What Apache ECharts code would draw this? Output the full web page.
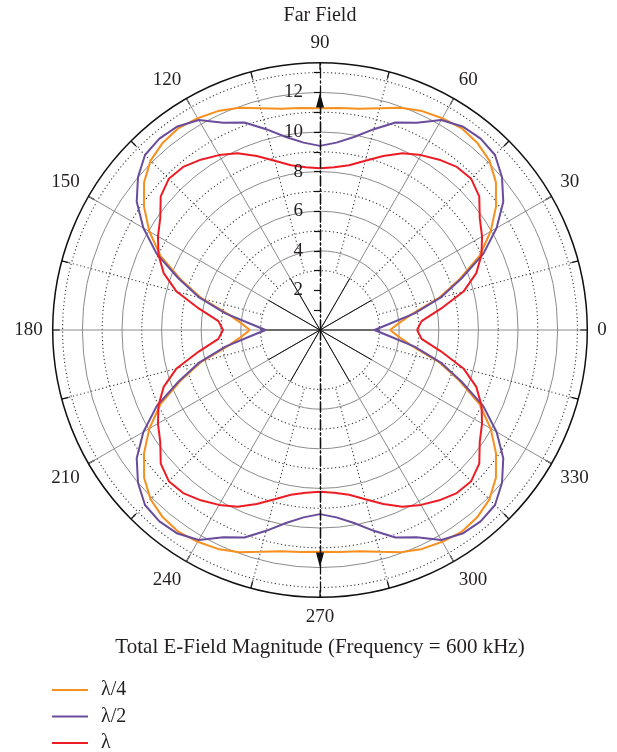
<!DOCTYPE html>
<html>
<head>
<meta charset="utf-8">
<script src="https://cdn.jsdelivr.net/npm/echarts@6/dist/echarts.min.js"></script>
<style>
  html, body { margin: 0; padding: 0; background: #fff; }
  #chart { width: 617px; height: 752px; }
</style>
</head>
<body>
<div id="chart"></div>
<script>
// Far-field pattern: total E-field magnitude versus angle (degrees), 5-degree steps.
const angles = [
  0, 5, 10, 15, 20, 25, 30, 35, 40, 45, 50, 55, 60, 65, 70, 75, 80, 85, 90,
  95, 100, 105, 110, 115, 120, 125, 130, 135, 140, 145, 150, 155, 160, 165, 170, 175, 180,
  185, 190, 195, 200, 205, 210, 215, 220, 225, 230, 235, 240, 245, 250, 255, 260, 265, 270,
  275, 280, 285, 290, 295, 300, 305, 310, 315, 320, 325, 330, 335, 340, 345, 350, 355, 360
];

const quarterWave = [
  3.54, 4.0, 4.75, 6.2, 7.5, 8.9, 9.95, 10.85, 11.6, 12.1, 12.35, 12.45, 12.35, 12.2, 11.95, 11.6, 11.35, 11.25, 11.2,
  11.25, 11.35, 11.6, 11.95, 12.2, 12.35, 12.45, 12.35, 12.1, 11.6, 10.85, 9.95, 8.9, 7.5, 6.2, 4.75, 4.0, 3.54,
  4.0, 4.75, 6.2, 7.5, 8.9, 9.95, 10.85, 11.6, 12.1, 12.35, 12.45, 12.35, 12.2, 11.95, 11.6, 11.35, 11.25, 11.2,
  11.25, 11.35, 11.6, 11.95, 12.2, 12.35, 12.45, 12.35, 12.1, 11.6, 10.85, 9.95, 8.9, 7.5, 6.2, 4.75, 4.0, 3.54
];

const halfWave = [
  2.75, 3.5, 4.85, 6.3, 7.6, 9.1, 10.3, 11.3, 12.0, 12.5, 12.62, 12.55, 12.25, 11.55, 11.15, 10.5, 9.9, 9.5, 9.3,
  9.5, 9.9, 10.5, 11.15, 11.55, 12.25, 12.55, 12.62, 12.5, 12.0, 11.3, 10.3, 9.1, 7.6, 6.3, 4.85, 3.5, 2.75,
  3.5, 4.85, 6.3, 7.6, 9.1, 10.3, 11.3, 12.0, 12.5, 12.62, 12.55, 12.25, 11.55, 11.15, 10.5, 9.9, 9.5, 9.3,
  9.5, 9.9, 10.5, 11.15, 11.55, 12.25, 12.55, 12.62, 12.5, 12.0, 11.3, 10.3, 9.1, 7.6, 6.3, 4.85, 3.5, 2.75
];

const fullWave = [
  4.9, 5.15, 6.2, 7.5, 8.4, 9.0, 9.45, 9.85, 10.5, 10.8, 10.75, 10.5, 10.2, 9.85, 9.35, 8.85, 8.45, 8.25, 8.17,
  8.25, 8.45, 8.85, 9.35, 9.85, 10.2, 10.5, 10.75, 10.8, 10.5, 9.85, 9.45, 9.0, 8.4, 7.5, 6.2, 5.15, 4.9,
  5.15, 6.2, 7.5, 8.4, 9.0, 9.45, 9.85, 10.5, 10.8, 10.75, 10.5, 10.2, 9.85, 9.35, 8.85, 8.45, 8.25, 8.17,
  8.25, 8.45, 8.85, 9.35, 9.85, 10.2, 10.5, 10.75, 10.8, 10.5, 9.85, 9.45, 9.0, 8.4, 7.5, 6.2, 5.15, 4.9
];

const seriesNames = ['λ/4', 'λ/2', 'λ'];
const seriesValues = [quarterWave, halfWave, fullWave];
const seriesColors = ['#F7901E', '#6A4C9C', '#ED1C24'];

const radialTicks = [1, 2, 3, 4, 5, 6, 7, 8, 9, 10, 11, 12, 13];
const radialLabels = [2, 4, 6, 8, 10, 12];

// Layout
const CENTER = [320, 330];
const R_OUT = 267.3;          // outer ring (radius 13.5)
const R_MAX = 13.5;
const PX = R_OUT / R_MAX;     // pixels per unit
const FONT = "'Liberation Serif', 'Times New Roman', serif";
const INK = '#231F20';
const NONE = 'rgba(0,0,0,0)';
const GRID = '#8C8C8C';
const DOT = '#3A3A3A';
const DASH_DOT = [10, 3, 2, 3];

// colours for angular split lines every 15 deg: solid spokes at multiples of 30, skipping 90/270
const spokeColors = [];
for (let i = 0; i < 24; i++) {
  spokeColors.push(i % 2 === 0 && i !== 6 && i !== 18 ? GRID : NONE);
}
const innerSpokeColors = [];
for (let i = 0; i < 12; i++) {
  innerSpokeColors.push(i !== 3 && i !== 9 ? '#111' : NONE);
}

const hiddenAngle = (idx, start) => ({ polarIndex: idx, type: 'value', min: 0, max: 360, startAngle: start, show: false });

const chart = echarts.init(document.getElementById('chart'), null, { renderer: 'canvas' });

const option = {
  animation: false,
  backgroundColor: '#fff',
  title: [
    {
      text: 'Far Field', left: CENTER[0], top: 6, padding: 0, textAlign: 'center',
      textStyle: { fontFamily: FONT, fontSize: 20, fontWeight: 'normal', color: INK }
    },
    {
      text: 'Total E-Field Magnitude (Frequency = 600 kHz)', left: CENTER[0], top: 637, padding: 0, textAlign: 'center',
      textStyle: { fontFamily: FONT, fontSize: 21, fontWeight: 'normal', color: INK }
    }
  ],
  legend: {
    data: seriesNames,
    orient: 'vertical',
    left: 52, top: 680, height: 120,
    padding: 0,
    itemWidth: 36, itemHeight: 14, itemGap: 6.5,
    icon: 'path://M0,6 L36,6 L36,8 L0,8 Z',
    textStyle: { fontFamily: FONT, fontSize: 20, lineHeight: 20, color: INK, padding: [0, 0, 0, 8] }
  },
  polar: [
    { center: CENTER, radius: R_OUT },                       // 0: data + main grid
    { center: CENTER, radius: [3 * PX, R_OUT] },             // 1: dotted grid
    { center: CENTER, radius: 3 * PX },                      // 2: dark inner spokes
    { center: CENTER, radius: R_OUT },                       // 3: vertical axis, upper half
    { center: CENTER, radius: R_OUT },                       // 4: vertical axis, lower half
    { center: CENTER, radius: 12 * PX - 7.5 },               // 5: arrow head up
    { center: CENTER, radius: 12 * PX - 7.5 }                // 6: arrow head down
  ],
  angleAxis: [
    {
      polarIndex: 0, type: 'value', min: 0, max: 360, interval: 15,
      startAngle: 0, clockwise: false,
      axisLine: { show: true, lineStyle: { color: '#111', width: 1.5 } },
      axisTick: { show: true, inside: true, length: 7, lineStyle: { color: '#111', width: 1.3 } },
      axisLabel: {
        show: true, margin: 10,
        fontFamily: FONT, fontSize: 19, color: INK,
        formatter: (v) => (v % 30 === 0 && v !== 360 ? String(v) : '')
      },
      splitLine: { show: true, lineStyle: { color: spokeColors, width: 1 } }
    },
    {
      polarIndex: 1, type: 'value', min: 0, max: 360, interval: 15,
      startAngle: 0, clockwise: false,
      axisLine: { show: false }, axisTick: { show: false }, axisLabel: { show: false },
      splitLine: { show: true, lineStyle: { color: [NONE, DOT], width: 1.1, type: [1.2, 2.6] } }
    },
    {
      polarIndex: 2, type: 'value', min: 0, max: 360, interval: 30,
      startAngle: 0, clockwise: false,
      axisLine: { show: false }, axisTick: { show: false }, axisLabel: { show: false },
      splitLine: { show: true, lineStyle: { color: innerSpokeColors, width: 1 } }
    },
    hiddenAngle(3, 90), hiddenAngle(4, 270), hiddenAngle(5, 90), hiddenAngle(6, 270)
  ],
  radiusAxis: [
    {
      polarIndex: 0, type: 'value', min: 0, max: R_MAX, interval: 2,
      axisLine: { show: false }, axisTick: { show: false }, axisLabel: { show: false },
      splitLine: { show: true, lineStyle: { color: [NONE, NONE, GRID, GRID, GRID, GRID, GRID, NONE], width: 1 } }
    },
    {
      // offset scale: 0 here is radius 3, so rings fall on 3, 5, 7, ... 13
      polarIndex: 1, type: 'value', min: 0, max: R_MAX - 3, interval: 2,
      axisLine: { show: false }, axisTick: { show: false }, axisLabel: { show: false },
      splitLine: { show: true, lineStyle: { color: [DOT, DOT, DOT, DOT, DOT, DOT, NONE], width: 1.1, type: [1.2, 2.6] } }
    },
    { polarIndex: 2, type: 'value', min: 0, max: 3, show: false },
    {
      polarIndex: 3, type: 'value', min: 0, max: R_MAX, interval: 1, z: 5,
      axisLine: { show: true, lineStyle: { color: '#111', width: 1.3, type: DASH_DOT } },
      axisTick: { show: true, length: 6, customValues: radialTicks, lineStyle: { color: '#111', width: 1.2 } },
      axisLabel: {
        show: true, margin: 17, customValues: radialLabels,
        fontFamily: FONT, fontSize: 19, color: INK,
        formatter: (v) => (radialLabels.indexOf(v) >= 0 ? String(v) : '')
      },
      splitLine: { show: false }
    },
    {
      polarIndex: 4, type: 'value', min: 0, max: R_MAX, z: 5,
      axisLine: { show: true, lineStyle: { color: '#111', width: 1.3, type: DASH_DOT } },
      axisTick: { show: false }, axisLabel: { show: false }, splitLine: { show: false }
    },
    {
      polarIndex: 5, type: 'value', min: 0, max: 12, z: 5,
      axisLine: { show: true, symbol: ['none', 'triangle'], symbolSize: [8, 15],
        lineStyle: { color: '#111', width: 1.3, type: DASH_DOT } },
      axisTick: { show: false }, axisLabel: { show: false }, splitLine: { show: false }
    },
    {
      polarIndex: 6, type: 'value', min: 0, max: 12, z: 5,
      axisLine: { show: true, symbol: ['none', 'triangle'], symbolSize: [8, 15],
        lineStyle: { color: '#111', width: 1.3, type: DASH_DOT } },
      axisTick: { show: false }, axisLabel: { show: false }, splitLine: { show: false }
    }
  ],
  series: seriesNames.map((name, k) => ({
    name: name,
    type: 'line',
    coordinateSystem: 'polar',
    polarIndex: 0,
    symbol: 'none',
    smooth: false,
    z: 3,
    color: seriesColors[k],
    lineStyle: { color: seriesColors[k], width: 2 },
    data: angles.map((a, i) => [seriesValues[k][i], a])
  }))
};

chart.setOption(option);
</script>
</body>
</html>
